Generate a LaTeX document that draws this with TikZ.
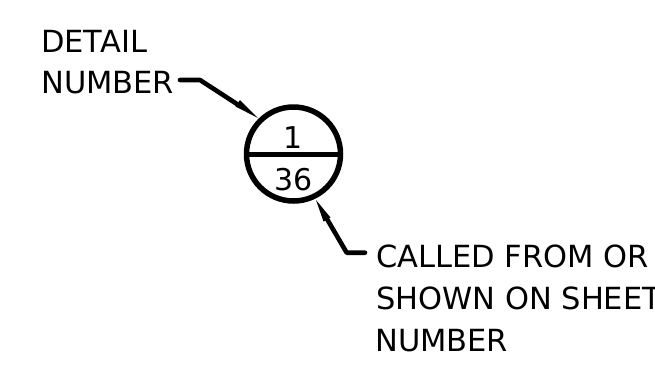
\documentclass[tikz,border=0pt]{standalone}
\usepackage{fontspec}
\setmainfont{DejaVu Sans}
\usetikzlibrary{arrows.meta}
\begin{document}
\begin{tikzpicture}[x=1pt,y=-1pt,
 lbl/.style={inner sep=0pt,anchor=base west,font=\fontsize{30.5}{30.5}\selectfont},
 num/.style={inner sep=0pt,anchor=base,font=\fontsize{30}{30}\selectfont},
 ln/.style={line width=4.6pt,line cap=round,line join=round},
 head/.style={fill=black,draw=none}]
\useasboundingbox (0,0) rectangle (655,365);
\clip (0,0) rectangle (655,365);
\node[lbl] (d1) at (41,52) {DETAIL};
\node[lbl] (d2) at (41,93) {NUMBER};
\node[lbl] (c1) at (376,267) {CALLED FROM OR};
\node[lbl] (c2) at (376,309) {SHOWN ON SHEET};
\node[lbl] (c3) at (375,351) {NUMBER};
\node[num] (n1) at (293.5,148) {1};
\node[num] (n2) at (293.5,190) {36};
\draw[line width=5.5pt] (293.5,154) circle (47);
\draw[line width=5.5pt] (246.5,154.3) -- (340.5,154.3);
\coordinate (a) at (180,80);\coordinate (b) at (200,80);\coordinate (t) at (258,118);
\draw[ln] (a) -- (b) -- (240,106);
\fill[head] (t) -- (235.5,106.5) -- (240,100) -- cycle;
\coordinate (p) at (365,252.7);\coordinate (q) at (346.7,252.7);\coordinate (r) at (316,200);
\draw[ln] (p) -- (q) -- (327,219);
\fill[head] (r) -- (323.5,221.5) -- (330.5,217.5) -- cycle;
\end{tikzpicture}
\end{document}
